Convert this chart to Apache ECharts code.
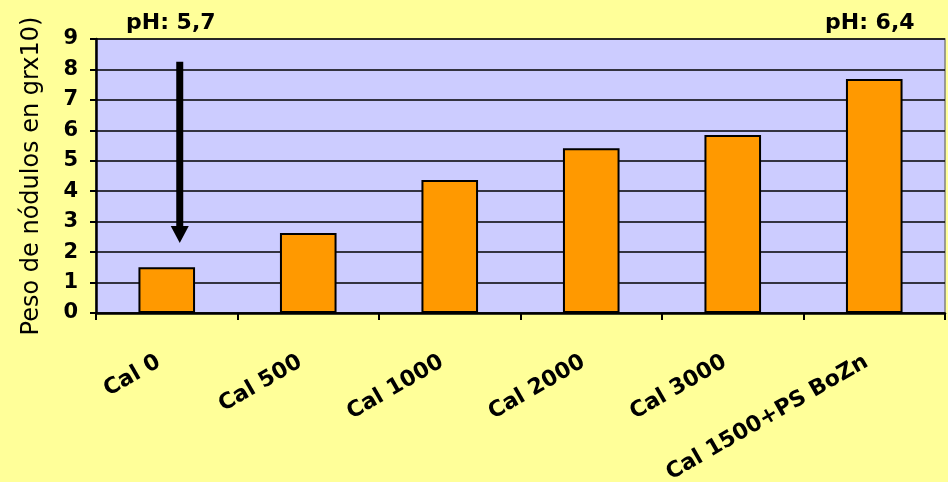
<!DOCTYPE html>
<html><head><meta charset="utf-8">
<script src="https://cdn.jsdelivr.net/npm/echarts@6/dist/echarts.min.js"></script>
<style>html,body{margin:0;padding:0;background:#FFFF99;}#c{width:948px;height:482px;}</style>
</head><body><div id="c"></div>
<script>
const categories = ['Cal 0','Cal 500','Cal 1000','Cal 2000','Cal 3000','Cal 1500+PS BoZn'];
const values = [1.5, 2.63, 4.37, 5.41, 5.85, 7.69];
const yTicks = [0,1,2,3,4,5,6,7,8,9];
const phLabels = ['pH: 5,7','pH: 6,4'];
const arrowFrom = 8.25, arrowTo = 2.3;

const FONT = '"DejaVu Sans", Verdana, sans-serif';
const chart = echarts.init(document.getElementById('c'), null, {renderer:'canvas'});
chart.setOption({
  backgroundColor:'#FFFF99',
  animation:false,
  grid:{left:96,right:3,top:39,bottom:169,containLabel:false,outerBoundsMode:'none',show:true,backgroundColor:'#CCCCFF',borderColor:'#808080',borderWidth:1.5},
  xAxis:{type:'category',data:categories,
    axisLine:{lineStyle:{color:'#000',width:2.5}},
    axisTick:{show:true,length:7,lineStyle:{color:'#000',width:2}},
    axisLabel:{rotate:30,interval:0,margin:43,padding:[0,9,0,0],color:'#000',fontFamily:FONT,fontWeight:'bold',fontSize:22}
  },
  yAxis:{type:'value',min:0,max:9,interval:1,
    name:'Peso de nódulos en grx10)',nameLocation:'middle',nameGap:52,
    nameTextStyle:{color:'#000',fontFamily:FONT,fontSize:24},
    axisLine:{show:true,lineStyle:{color:'#000',width:2.5}},
    axisTick:{show:true,length:6,lineStyle:{color:'#000',width:2}},
    axisLabel:{color:'#000',fontFamily:FONT,fontWeight:'bold',fontSize:21,margin:18,
      formatter:v=>yTicks.includes(v)?String(v):''},
    splitLine:{show:true,lineStyle:{color:'#000',width:1.5}}
  },
  series:[{type:'bar',data:values,barWidth:'40%',
    itemStyle:{color:'#FF9900',borderColor:'#000',borderWidth:2}}]
});
const p1 = chart.convertToPixel({xAxisIndex:0,yAxisIndex:0},[0,arrowFrom]);
const p2 = chart.convertToPixel({xAxisIndex:0,yAxisIndex:0},[0,arrowTo]);
const ax = p1[0] + 13;
chart.setOption({graphic:[
  {type:'text',left:126,top:12,style:{text:phLabels[0],font:'bold 22px '+FONT,fill:'#000'}},
  {type:'text',left:825,top:12,style:{text:phLabels[1],font:'bold 22px '+FONT,fill:'#000'}},
  {type:'rect',shape:{x:ax-3.5,y:p1[1],width:7,height:(p2[1]-p1[1])-16},style:{fill:'#000'}},
  {type:'polygon',shape:{points:[[ax-9,p2[1]-17],[ax+9,p2[1]-17],[ax,p2[1]]]},style:{fill:'#000'}}
]});
</script></body></html>
